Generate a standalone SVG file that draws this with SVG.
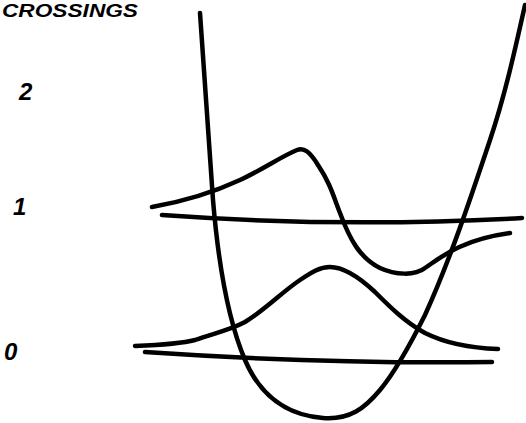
<svg xmlns="http://www.w3.org/2000/svg" width="526" height="423" viewBox="0 0 526 423">
<style>
.ink{fill:none;stroke:#000;stroke-width:4.5;stroke-linecap:round;stroke-linejoin:round}
.lbl{font-family:"Liberation Sans",Arial,sans-serif;font-weight:bold;font-style:italic;fill:#000}
</style>
<rect width="526" height="423" fill="#fff"/>
<text class="lbl" x="2" y="17" font-size="18" textLength="136" lengthAdjust="spacingAndGlyphs">CROSSINGS</text>
<g id="labels">
<text class="lbl" x="19" y="100" font-size="24">2</text>
<text class="lbl" x="13" y="215" font-size="24">1</text>
<text class="lbl" x="4" y="360" font-size="24">0</text>
</g>
<g id="curves">
<path id="level1-curve" class="ink" d="M152,207 C180,202 210,194 240,180 C262,170 282,156 297,150 C304,147 310,152 318,165 C330,183 333,195 340,213 C350,240 360,258 380,268 C395,275 415,276 425,268 C440,258 460,240 510,233"/>
<path id="level1-line" class="ink" d="M162,215 Q343,228 522,218"/>
<path id="level0-curve" class="ink" d="M135,346 C160,345 180,344 195,340 C215,333 230,330 245,322 C265,310 282,292 300,280 C312,272 320,267 330,267 C345,267 360,278 375,292 C390,307 405,322 425,333 C445,343 470,348 498,349"/>
<path id="level0-line" class="ink" d="M145,352 Q320,364 492,362"/>
<path id="well" class="ink" d="M200,13 C203,60 208,130 213,200 C218,260 228,320 245,360 C260,395 285,415 323,418 C350,420 365,408 380,390 C395,372 410,345 425,315 C450,260 470,200 490,140 C505,95 515,50 525,5"/>
</g>
</svg>
